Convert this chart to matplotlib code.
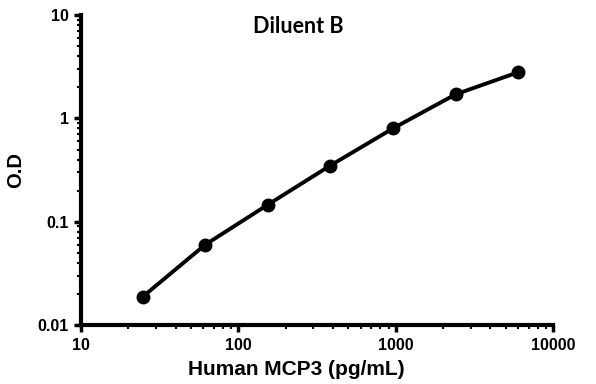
import matplotlib
matplotlib.use("Agg")
import matplotlib.pyplot as plt
from matplotlib.ticker import FixedLocator, FixedFormatter, LogLocator, NullFormatter

# Standard curve data (2.5-fold dilution series)
concentration = [24.576, 61.44, 153.6, 384, 960, 2400, 6000]
od_values = [0.0187, 0.0598, 0.146, 0.35, 0.80, 1.71, 2.80]

x_ticks = [10, 100, 1000, 10000]
x_tick_labels = ["10", "100", "1000", "10000"]
y_ticks = [0.01, 0.1, 1, 10]
y_tick_labels = ["0.01", "0.1", "1", "10"]

plt.rcParams['font.family'] = ['Liberation Sans', 'DejaVu Sans']

fig = plt.figure(figsize=(5.96, 3.84), dpi=100)
ax = fig.add_axes([0.136, 0.1536, 0.792, 0.807])

ax.plot(concentration, od_values, color='black', linewidth=2.8,
        marker='o', markersize=9, markerfacecolor='black', markeredgecolor='black',
        solid_capstyle='round', clip_on=False)

ax.set_xscale('log')
ax.set_yscale('log')
ax.set_xlim(10, 10000)
ax.set_ylim(0.01, 10)

ax.xaxis.set_major_locator(FixedLocator(x_ticks))
ax.xaxis.set_major_formatter(FixedFormatter(x_tick_labels))
ax.yaxis.set_major_locator(FixedLocator(y_ticks))
ax.yaxis.set_major_formatter(FixedFormatter(y_tick_labels))
ax.xaxis.set_minor_locator(LogLocator(base=10, subs=range(2, 10)))
ax.yaxis.set_minor_locator(LogLocator(base=10, subs=range(2, 10)))
ax.xaxis.set_minor_formatter(NullFormatter())
ax.yaxis.set_minor_formatter(NullFormatter())

for side in ['top', 'right']:
    ax.spines[side].set_visible(False)
for side in ['left', 'bottom']:
    ax.spines[side].set_linewidth(3)

ax.tick_params(which='major', direction='out', length=5, width=2.5, pad=4,
               labelsize=11.5)
ax.tick_params(which='minor', direction='out', length=3, width=1.5)
for lbl in ax.get_xticklabels() + ax.get_yticklabels():
    lbl.set_fontweight('bold')

ax.set_xlabel("Human MCP3 (pg/mL)", fontsize=15, fontweight='bold')
ax.xaxis.set_label_coords(0.455, -0.112)
ax.set_ylabel("O.D", fontsize=14.5, fontweight='bold', labelpad=9)

fig.text(0.5, 0.93, "Diluent B", fontsize=15.5, fontweight='bold',
         family=['Lato', 'DejaVu Sans'], ha='center', va='center')

fig.savefig("out.png", dpi=100, facecolor='white')
